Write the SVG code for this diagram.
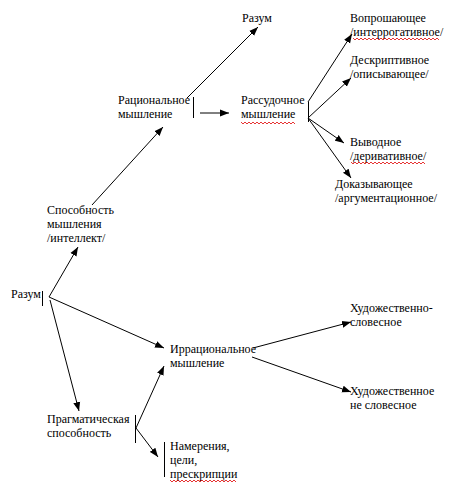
<svg xmlns="http://www.w3.org/2000/svg" width="455" height="490" viewBox="0 0 455 490">
<style>
text{font-family:"Liberation Serif","Times New Roman",serif;font-size:12px;fill:#000}
.c line{stroke:#000;stroke-width:1;fill:none}
.bar{stroke:#000;stroke-width:1}
.sq{stroke:#e00000;stroke-width:0.8;fill:none}
</style>
<defs>
<marker id="a" markerUnits="userSpaceOnUse" markerWidth="10" markerHeight="8" refX="9" refY="4" orient="auto">
<path d="M0,0.5 L9,4 L0,7.5 Z" fill="#000"/>
</marker>
</defs>
<rect width="455" height="490" fill="#fff"/>
<g class="c">
<line x1="92" y1="205" x2="163" y2="127" marker-end="url(#a)"/>
<line x1="187" y1="98" x2="258" y2="27" marker-end="url(#a)"/>
<line x1="200" y1="113" x2="229" y2="113" marker-end="url(#a)"/>
<line x1="308" y1="102" x2="352" y2="34" marker-end="url(#a)"/>
<line x1="308" y1="118" x2="351" y2="78" marker-end="url(#a)"/>
<line x1="308" y1="118" x2="344" y2="143" marker-end="url(#a)"/>
<line x1="308" y1="118" x2="351" y2="178" marker-end="url(#a)"/>
<line x1="49" y1="297" x2="78" y2="247" marker-end="url(#a)"/>
<line x1="49" y1="297" x2="164" y2="348" marker-end="url(#a)"/>
<line x1="50" y1="300" x2="79" y2="411" marker-end="url(#a)"/>
<line x1="136" y1="428" x2="164" y2="366" marker-end="url(#a)"/>
<line x1="136" y1="428" x2="158" y2="457" marker-end="url(#a)"/>
<line x1="253" y1="348" x2="351" y2="322" marker-end="url(#a)"/>
<line x1="252" y1="357" x2="351" y2="392" marker-end="url(#a)"/>
</g>
<g id="bars">
<line class="bar" x1="193.5" y1="97" x2="193.5" y2="118"/>
<line class="bar" x1="308.5" y1="102" x2="308.5" y2="122"/>
<line class="bar" x1="42.5" y1="291" x2="42.5" y2="306"/>
<line class="bar" x1="135.5" y1="415" x2="135.5" y2="443"/>
<line class="bar" x1="164.5" y1="442" x2="164.5" y2="477"/>
</g>
<g id="n-razum-top"><text x="242" y="22">Разум</text></g>
<g id="n-vopr"><text x="350" y="22">Вопрошающее</text><text x="350" y="36">/интеррогативное/</text>
<path class="sq" d="M353,38 l2,2 l2,-2 l2,2 l2,-2 l2,2 l2,-2 l2,2 l2,-2 l2,2 l2,-2 l2,2 l2,-2 l2,2 l2,-2 l2,2 l2,-2 l2,2 l2,-2 l2,2 l2,-2 l2,2 l2,-2 l2,2 l2,-2 l2,2 l2,-2 l2,2 l2,-2 l2,2 l2,-2 l2,2 l2,-2 l2,2 l2,-2 l2,2 l2,-2 l2,2 l2,-2 l2,2 l2,-2 l2,2 l2,-2 l2,2"/></g>
<g id="n-deskr"><text x="350" y="64">Дескриптивное</text><text x="350" y="78">/описывающее/</text></g>
<g id="n-rac"><text x="118" y="104">Рациональное</text><text x="118" y="118">мышление</text></g>
<g id="n-rass"><text x="241" y="104">Рассудочное</text><text x="241" y="118">мышление</text>
<path class="sq" d="M241,122 l2,2 l2,-2 l2,2 l2,-2 l2,2 l2,-2 l2,2 l2,-2 l2,2 l2,-2 l2,2 l2,-2 l2,2 l2,-2 l2,2 l2,-2 l2,2 l2,-2 l2,2 l2,-2 l2,2 l2,-2 l2,2 l2,-2 l2,2 l2,-2 l2,2"/></g>
<g id="n-vyv"><text x="350" y="146">Выводное</text><text x="350" y="160">/деривативное/</text>
<path class="sq" d="M351,162 l2,2 l2,-2 l2,2 l2,-2 l2,2 l2,-2 l2,2 l2,-2 l2,2 l2,-2 l2,2 l2,-2 l2,2 l2,-2 l2,2 l2,-2 l2,2 l2,-2 l2,2 l2,-2 l2,2 l2,-2 l2,2 l2,-2 l2,2 l2,-2 l2,2 l2,-2 l2,2 l2,-2 l2,2 l2,-2 l2,2 l2,-2 l2,2 l2,-2 l2,2"/></g>
<g id="n-dok"><text x="335" y="188">Доказывающее</text><text x="335" y="202">/аргументационное/</text></g>
<g id="n-sposob"><text x="47" y="214">Способность</text><text x="47" y="228">мышления</text><text x="47" y="242">/интеллект/</text></g>
<g id="n-razum"><text x="11" y="298">Разум</text></g>
<g id="n-hud1"><text x="350" y="312">Художественно-</text><text x="350" y="326">словесное</text></g>
<g id="n-irr"><text x="170" y="353">Иррациональное</text><text x="170" y="367">мышление</text></g>
<g id="n-hud2"><text x="350" y="395">Художественное</text><text x="350" y="409">не словесное</text></g>
<g id="n-prag"><text x="47" y="423">Прагматическая</text><text x="47" y="437">способность</text></g>
<g id="n-nam"><text x="170" y="450">Намерения,</text><text x="170" y="464">цели,</text><text x="170" y="478">прескрипции</text>
<path class="sq" d="M170,480 l2,2 l2,-2 l2,2 l2,-2 l2,2 l2,-2 l2,2 l2,-2 l2,2 l2,-2 l2,2 l2,-2 l2,2 l2,-2 l2,2 l2,-2 l2,2 l2,-2 l2,2 l2,-2 l2,2 l2,-2 l2,2 l2,-2 l2,2 l2,-2 l2,2 l2,-2 l2,2 l2,-2 l2,2 l2,-2 l2,2"/></g>
</svg>
